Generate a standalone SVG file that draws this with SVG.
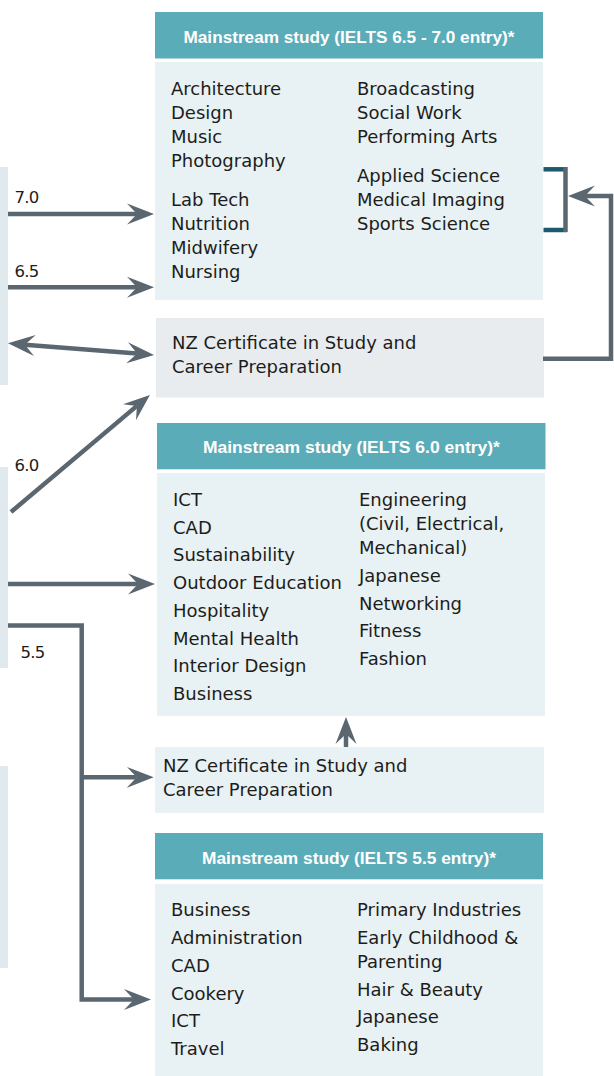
<svg xmlns="http://www.w3.org/2000/svg" width="614" height="1076" viewBox="0 0 614 1076">
<style>
.hdr{fill:#5aacb9}
.body{fill:#e8f1f3}
.cert{fill:#e9ecef}
.strip{fill:#dfe9ee}
.ht{font-family:"Liberation Sans",Arial,sans-serif;font-weight:bold;font-size:17px;fill:#ffffff;text-anchor:middle}
.t{font-family:"DejaVu Sans",sans-serif;font-size:18px;fill:#1d1d1b}
.lb{font-family:"DejaVu Sans",sans-serif;font-size:16.5px;fill:#1d1d1b;letter-spacing:-0.8px}
.ln{fill:none;stroke:#5b6770;stroke-width:4.5}
.tl{fill:none;stroke:#1c5a6e;stroke-width:4.5}
</style>
<defs>
<marker id="ah" viewBox="0 0 28 22" refX="10" refY="11" markerWidth="28" markerHeight="22" markerUnits="userSpaceOnUse" orient="auto-start-reverse">
<path d="M27,11 L0,0.5 L10,11 L0,21.5 Z" fill="#5b6770"/>
</marker>
</defs>

<g id="strips">
<rect class="strip" x="0" y="167" width="8" height="218"/>
<rect class="strip" x="0" y="467" width="8" height="201"/>
<rect class="strip" x="0" y="766" width="8" height="202"/>
</g>

<g id="mainstream-70">
<rect class="hdr" x="155" y="12" width="388" height="46.5"/>
<text class="ht" x="349" y="43.3" textLength="331" lengthAdjust="spacingAndGlyphs">Mainstream study (IELTS 6.5 - 7.0 entry)*</text>
<rect class="body" x="155" y="62" width="388" height="238"/>
<text class="t" x="171" y="95">Architecture</text>
<text class="t" x="171" y="119">Design</text>
<text class="t" x="171" y="143">Music</text>
<text class="t" x="171" y="167">Photography</text>
<text class="t" x="171" y="206">Lab Tech</text>
<text class="t" x="171" y="230">Nutrition</text>
<text class="t" x="171" y="254">Midwifery</text>
<text class="t" x="171" y="278">Nursing</text>
<text class="t" x="357" y="95">Broadcasting</text>
<text class="t" x="357" y="119">Social Work</text>
<text class="t" x="357" y="143">Performing Arts</text>
<text class="t" x="357" y="182">Applied Science</text>
<text class="t" x="357" y="206">Medical Imaging</text>
<text class="t" x="357" y="230">Sports Science</text>
</g>

<g id="cert-1">
<rect class="cert" x="156" y="318" width="388" height="79.5"/>
<text class="t" x="172" y="349.3">NZ Certificate in Study and</text>
<text class="t" x="172" y="373.3">Career Preparation</text>
</g>

<g id="mainstream-60">
<rect class="hdr" x="157" y="423" width="388.5" height="46.3"/>
<text class="ht" x="351.4" y="453.3" textLength="297" lengthAdjust="spacingAndGlyphs">Mainstream study (IELTS 6.0 entry)*</text>
<rect class="body" x="157" y="473" width="388" height="243"/>
<text class="t" x="173" y="506">ICT</text>
<text class="t" x="173" y="533.5">CAD</text>
<text class="t" x="173" y="561">Sustainability</text>
<text class="t" x="173" y="589">Outdoor Education</text>
<text class="t" x="173" y="616.5">Hospitality</text>
<text class="t" x="173" y="644.5">Mental Health</text>
<text class="t" x="173" y="672">Interior Design</text>
<text class="t" x="173" y="700">Business</text>
<text class="t" x="359" y="506">Engineering</text>
<text class="t" x="359" y="530">(Civil, Electrical,</text>
<text class="t" x="359" y="554">Mechanical)</text>
<text class="t" x="359" y="582">Japanese</text>
<text class="t" x="359" y="609.5">Networking</text>
<text class="t" x="359" y="637">Fitness</text>
<text class="t" x="359" y="665">Fashion</text>
</g>

<g id="cert-2">
<rect class="body" x="155" y="747" width="389" height="66"/>
<text class="t" x="163" y="771.7">NZ Certificate in Study and</text>
<text class="t" x="163" y="796">Career Preparation</text>
</g>

<g id="mainstream-55">
<rect class="hdr" x="155" y="833" width="388" height="46.3"/>
<text class="ht" x="349" y="864" textLength="294" lengthAdjust="spacingAndGlyphs">Mainstream study (IELTS 5.5 entry)*</text>
<rect class="body" x="155" y="884" width="388" height="192"/>
<text class="t" x="171" y="916">Business</text>
<text class="t" x="171" y="944">Administration</text>
<text class="t" x="171" y="972">CAD</text>
<text class="t" x="171" y="999.5">Cookery</text>
<text class="t" x="171" y="1027">ICT</text>
<text class="t" x="171" y="1054.5">Travel</text>
<text class="t" x="357" y="916">Primary Industries</text>
<text class="t" x="357" y="944">Early Childhood &amp;</text>
<text class="t" x="357" y="968">Parenting</text>
<text class="t" x="357" y="996">Hair &amp; Beauty</text>
<text class="t" x="357" y="1023">Japanese</text>
<text class="t" x="357" y="1051">Baking</text>
</g>

<g id="labels">
<text class="lb" x="14.5" y="203.3">7.0</text>
<text class="lb" x="14.5" y="277.3">6.5</text>
<text class="lb" x="14.5" y="470.5">6.0</text>
<text class="lb" x="20.5" y="658">5.5</text>
</g>

<g id="connectors">
<path class="ln" d="M8,214 H137" marker-end="url(#ah)"/>
<path class="ln" d="M8,287.3 H137" marker-end="url(#ah)"/>
<path class="ln" d="M24.9,344.7 L137.1,353.6" marker-start="url(#ah)" marker-end="url(#ah)"/>
<path class="ln" d="M11,512 L136.9,405.9" marker-end="url(#ah)"/>
<path class="ln" d="M8,584 H138" marker-end="url(#ah)"/>
<path class="ln" d="M8,625.5 H81.7 V999.5 H134" marker-end="url(#ah)"/>
<path class="ln" d="M81.7,777.3 H136.7" marker-end="url(#ah)"/>
<path class="ln" d="M346,747 V734" marker-end="url(#ah)"/>
<path class="ln" d="M543,358.7 H611 V196 H585" marker-end="url(#ah)"/>
<path class="tl" d="M543.5,169.3 H567"/>
<path class="tl" d="M543.5,230 H567"/>
<path class="ln" d="M565.5,167 V232"/>
</g>
</svg>
